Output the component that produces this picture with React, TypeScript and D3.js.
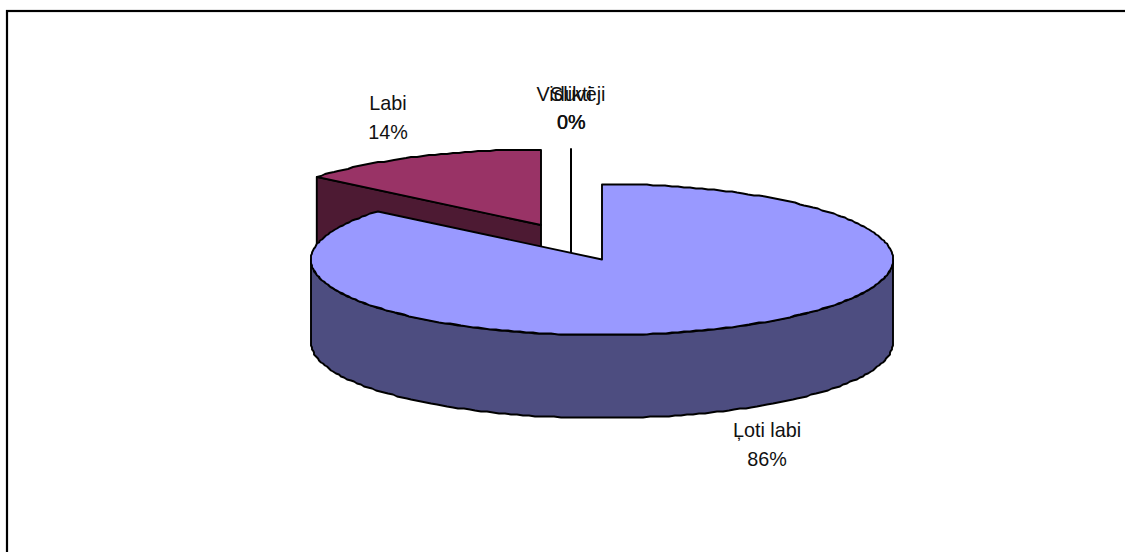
import React from "react";
import * as d3 from "d3";

const categories = ["Ļoti labi", "Labi", "Viduvēji", "Slikti"];
const values = [86, 14, 0, 0];
const percentLabels = ["86%", "14%", "0%", "0%"];
const topColors = ["#9999FF", "#993366"];
const sideColors = ["#4D4D80", "#4D1A33"];

const RX = 291;
const RY = 75.5;
const DEPTH = 83;
const CX = 602;
const CY = 259.5;

function App() {
  const pie = d3.pie<number>().sort(null).startAngle(0).endAngle(2 * Math.PI);
  const arcs = pie(values);
  const xs = d3.scaleLinear().domain([-1, 1]).range([-RX, RX]);
  const ys = d3.scaleLinear().domain([-1, 1]).range([-RY, RY]);
  const px = (a: number) => xs(Math.sin(a));
  const py = (a: number) => ys(-Math.cos(a));
  const snap = (v: number) => Math.round(v);
  const arcPts = (a0: number, a1: number, dy = 0): [number, number][] => {
    const n = Math.max(2, Math.ceil(Math.abs(a1 - a0) / 0.022));
    return d3.range(n + 1).map((i) => {
      const a = a0 + ((a1 - a0) * i) / n;
      return [snap(px(a)), snap(py(a)) + dy] as [number, number];
    });
  };
  const line = d3.line();

  const big = arcs[0];
  const labi = arcs[1];
  const sliceTop = (d: d3.PieArcDatum<number>) =>
    line([[0, 0], ...arcPts(d.startAngle, d.endAngle)]) + "Z";

  const bigWall =
    line([
      ...arcPts(Math.PI / 2, (3 * Math.PI) / 2),
      ...arcPts((3 * Math.PI) / 2, Math.PI / 2, DEPTH),
    ]) + "Z";

  const tipX = px(labi.startAngle);
  const tipY = py(labi.startAngle);
  const labiWall =
    line([
      [tipX, tipY],
      [0, 0],
      [0, DEPTH],
      [tipX, tipY + DEPTH],
    ]) + "Z";

  const stroke = { stroke: "#000", strokeWidth: 1.9, strokeLinejoin: "round" as const };
  const txt = {
    fontFamily: "Liberation Sans, Arial, sans-serif",
    fontSize: 19.8,
    fill: "#111",
    textAnchor: "middle" as const,
  };

  return (
    <svg
      width={1125}
      height={552}
      style={{ position: "absolute", left: 0, top: 0, background: "#fff" }}
    >
      <rect x={7} y={11} width={1200} height={600} fill="#fff" stroke="#000" strokeWidth={2.2} />

      <g transform="translate(541,225)">
        <path d={labiWall} fill={sideColors[1]} {...stroke} />
        <path d={sliceTop(labi)} fill={topColors[1]} {...stroke} />
      </g>

      {arcs.slice(2).map((d, i) => (
        <g key={categories[i + 2]} transform="translate(571,224)">
          <path d={line([[0, 0], [px(d.endAngle), py(d.endAngle)]]) ?? ""} {...stroke} fill="none" />
          <line x1={0} x2={0} y1={0} y2={DEPTH} {...stroke} />
        </g>
      ))}

      <g transform={`translate(${CX},${CY})`}>
        <path d={bigWall} fill={sideColors[0]} {...stroke} />
        <path d={sliceTop(big)} fill={topColors[0]} {...stroke} />
      </g>

      <text x={388} y={110} {...txt}>{categories[1]}</text>
      <text x={388} y={139} {...txt}>{percentLabels[1]}</text>
      <text x={571} y={101} {...txt}>{categories[2]}</text>
      <text x={571} y={101} {...txt}>{categories[3]}</text>
      <text x={571} y={129} {...txt}>{percentLabels[2]}</text>
      <text x={571.6} y={129} {...txt}>{percentLabels[3]}</text>
      <text x={767} y={437} {...txt}>{categories[0]}</text>
      <text x={767} y={466} {...txt}>{percentLabels[0]}</text>
    </svg>
  );
}

export default App;
